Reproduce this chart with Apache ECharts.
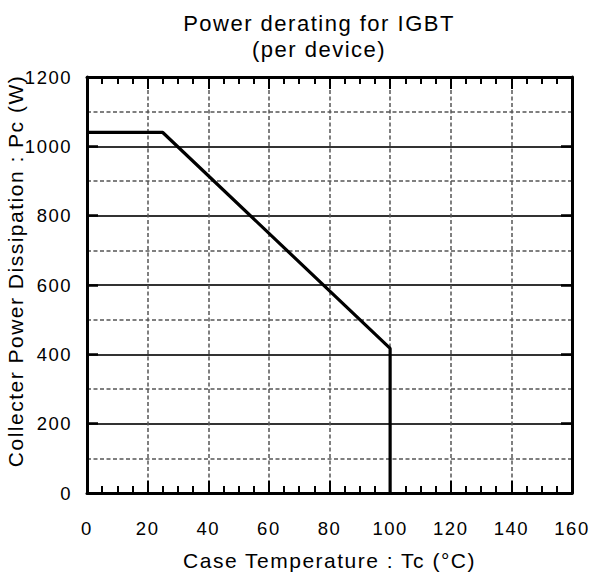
<!DOCTYPE html>
<html>
<head>
<meta charset="utf-8">
<script src="https://cdn.jsdelivr.net/npm/echarts@6/dist/echarts.min.js"></script>
<style>
html,body{margin:0;padding:0;background:#fff;}
#chart{width:591px;height:578px;}
#chart svg text{letter-spacing:1.5px;}
</style>
</head>
<body>
<div id="chart"></div>
<script>
var titleText = "Power derating for IGBT\n(per device)";
var xAxisName = "Case Temperature : Tc (°C)";
var yAxisName = "Collecter Power Dissipation : Pc (W)";
var xTicks = [0, 20, 40, 60, 80, 100, 120, 140, 160];
var yTicks = [0, 200, 400, 600, 800, 1000, 1200];
var tempC = [0, 25, 100, 100];
var powerW = [1040, 1040, 417, 0];

var chart = echarts.init(document.getElementById('chart'), null, {renderer: 'svg'});
var font = 'Liberation Sans, Arial, sans-serif';
var xMin = xTicks[0], xMax = xTicks[xTicks.length - 1];
var yMin = yTicks[0], yMax = yTicks[yTicks.length - 1];
function plain(v) { return String(v); }

function xAx(pos, show) {
  return {
    type: 'value', position: pos, min: xMin, max: xMax, interval: 20,
    axisLine: {show: true, onZero: false, lineStyle: {color: '#000', width: 3}},
    axisTick: {show: true, inside: true, length: 12, lineStyle: {color: '#000', width: 2}},
    minorTick: {show: true, splitNumber: 4, length: 7, lineStyle: {color: '#000', width: 2}},
    axisLabel: {show: show, margin: 26, color: '#000', fontSize: 18.5, fontFamily: font, formatter: plain},
    splitLine: {show: show, lineStyle: {color: '#555', width: 1.5, type: [4, 2.5]}},
    name: show ? xAxisName : '', nameLocation: 'middle', nameGap: 57, nameMoveOverlap: false,
    nameTextStyle: {color: '#000', fontSize: 21, fontFamily: font}
  };
}
function yAx(pos, show) {
  return {
    type: 'value', position: pos, min: yMin, max: yMax, interval: 200,
    axisLine: {show: true, onZero: false, lineStyle: {color: '#000', width: 3}},
    axisTick: {show: true, inside: true, length: 11, lineStyle: {color: '#000', width: 2.5}},
    axisLabel: {show: show, margin: 15, color: '#000', fontSize: 18.5, fontFamily: font,
                formatter: plain, padding: [7, 0, 0, 0]},
    splitLine: {show: show, lineStyle: {color: '#333', width: 2}},
    name: show ? yAxisName : '', nameLocation: 'middle', nameGap: 61, nameMoveOverlap: false,
    nameTextStyle: {color: '#000', fontSize: 21, fontFamily: font, padding: [0, 0, 0, 28]}
  };
}
var yDash = {
  type: 'value', position: 'left', min: yMin, max: yMax, interval: 100,
  axisLine: {show: false}, axisTick: {show: false}, axisLabel: {show: false},
  splitLine: {show: true, lineStyle: {color: '#555', width: 1.5, type: [4, 2.5]}}
};

chart.setOption({
  animation: false,
  backgroundColor: '#fff',
  title: {
    text: titleText, left: 314, top: 5, textAlign: 'center',
    textStyle: {color: '#000', fontSize: 22, fontWeight: 'normal', fontFamily: font, lineHeight: 26}
  },
  grid: {left: 87, right: 19, top: 77, bottom: 85, containLabel: false, outerBoundsMode: 'none'},
  xAxis: [xAx('bottom', true), xAx('top', false)],
  yAxis: [yDash, yAx('left', true), yAx('right', false)],
  series: [{
    type: 'line', xAxisIndex: 0, yAxisIndex: 1,
    data: tempC.map(function (t, i) { return [t, powerW[i]]; }),
    symbol: 'none', z: 10,
    lineStyle: {color: '#000', width: 3.2}
  }]
});
</script>
</body>
</html>
